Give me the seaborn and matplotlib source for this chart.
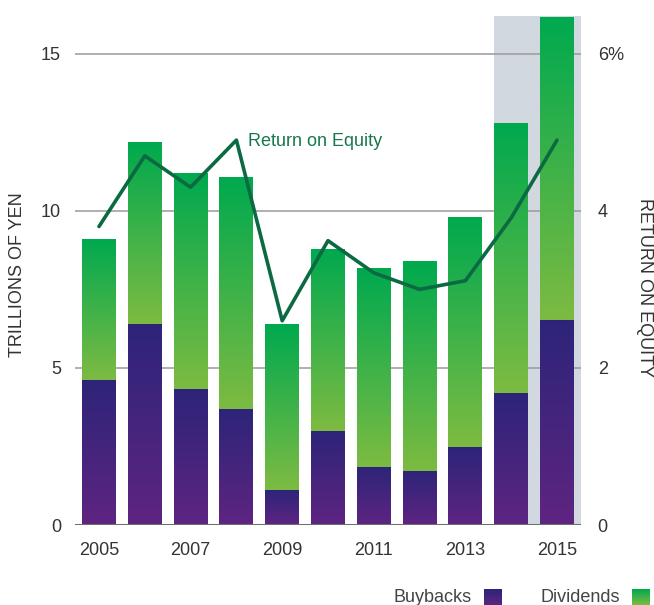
import numpy as np
import pandas as pd
import matplotlib
matplotlib.use('Agg')
import matplotlib.pyplot as plt
from matplotlib.colors import LinearSegmentedColormap
import seaborn as sns

# Data
years = [str(y) for y in range(2005, 2016)]
buybacks = [4.6, 6.37, 4.3, 3.69, 1.11, 2.99, 1.82, 1.69, 2.48, 4.2, 6.5]
totals = [9.08, 12.17, 11.18, 11.05, 6.37, 8.76, 8.18, 8.38, 9.78, 12.77, 16.15]
roe = [3.8, 4.7, 4.3, 4.9, 2.6, 3.62, 3.21, 3.0, 3.11, 3.91, 4.9]
left_ticks = [0, 5, 10, 15]
right_ticks = [0, 2, 4, 6]
right_labels = ['0', '2', '4', '6%']
xtick_years = ['2005', '2007', '2009', '2011', '2013', '2015']

df = pd.DataFrame({'year': years, 'buybacks': buybacks, 'total': totals, 'roe': roe})

sns.set_theme(style='white')
plt.rcParams['font.family'] = ['Liberation Sans', 'DejaVu Sans']

purple = LinearSegmentedColormap.from_list('purp', ['#2d2479', '#5e2581'])
green = LinearSegmentedColormap.from_list('grn', ['#00a94f', '#7dbb42'])
grad = np.linspace(0, 1, 256).reshape(-1, 1)

fig = plt.figure(figsize=(6.54, 6.05), dpi=100)
ax = fig.add_axes([75 / 654, 1 - 525 / 605, 506 / 654, 509 / 605])

ymax = 16.2
xmin, xmax = -0.524, 10.524

sns.barplot(data=df, x='year', y='total', order=years, width=0.74, ax=ax, zorder=2)
sns.barplot(data=df, x='year', y='buybacks', order=years, width=0.74, ax=ax, zorder=2)
bars = list(ax.patches)

# highlighted last two years
ax.axvspan(9 - 0.37, xmax, color='#d1d8df', zorder=0, lw=0)
for t in left_ticks[1:]:
    ax.axhline(t, color='#9a9a9a', lw=1.1, zorder=1)

n = len(years)
for i, p in enumerate(bars):
    x0 = p.get_x()
    x1 = x0 + p.get_width()
    if i < n:
        bottom, top, cmap = buybacks[i], p.get_height(), green
    else:
        bottom, top, cmap = 0, p.get_height(), purple
    p.set_facecolor('none')
    p.set_edgecolor('none')
    ax.imshow(grad, cmap=cmap, aspect='auto', extent=(x0, x1, bottom, top),
              zorder=3, interpolation='bicubic')

ax.axhline(0, color='#6e6e6e', lw=2.2, zorder=4)
ax.set_xlim(xmin, xmax)
ax.set_ylim(0, ymax)
ax.set_yticks(left_ticks)
ax.set_yticklabels([str(t) for t in left_ticks])
ax.set_xticks([years.index(y) for y in xtick_years])
ax.set_xticklabels(xtick_years)
ax.tick_params(axis='both', length=0, labelsize=13, colors='#333333')
ax.tick_params(axis='y', pad=10)
ax.tick_params(axis='x', pad=12)
ax.set_xlabel('')
ax.set_ylabel('')
for s in ax.spines.values():
    s.set_visible(False)

ax2 = ax.twinx()
sns.lineplot(data=df, x='year', y='roe', ax=ax2, color='#0b6a42', lw=2.6, sort=False)
ax2.set_ylim(0, ymax / 2.5)
ax2.set_xlim(xmin, xmax)
ax2.set_yticks(right_ticks)
ax2.set_yticklabels(right_labels)
ax2.tick_params(axis='y', length=0, labelsize=13, colors='#333333', pad=12)
ax2.set_ylabel('')
ax2.set_xlabel('')
for s in ax2.spines.values():
    s.set_visible(False)

ax.text(3.253, 12.2, 'Return on Equity', color='#17774d', fontsize=13,
        ha='left', va='center', zorder=5)

fig.text(18 / 654, 1 - 275 / 605, 'TRILLIONS OF YEN', rotation=90, fontsize=13,
         color='#333333', ha='center', va='center')
fig.text(645 / 654, 1 - 287 / 605, 'RETURN ON EQUITY', rotation=-90, fontsize=13,
         color='#333333', ha='center', va='center')

# legend
fig.text(472 / 654, 1 - 597 / 605, 'Buybacks', fontsize=13, color='#444444',
         ha='right', va='center')
fig.text(620 / 654, 1 - 597 / 605, 'Dividends', fontsize=13, color='#444444',
         ha='right', va='center')
for xl, cm in [(484, purple), (632, green)]:
    lax = fig.add_axes([xl / 654, 1 - 605 / 605, 18 / 654, 16 / 605])
    lax.imshow(grad, cmap=cm, aspect='auto')
    lax.axis('off')

fig.savefig('out.png', dpi=100)
